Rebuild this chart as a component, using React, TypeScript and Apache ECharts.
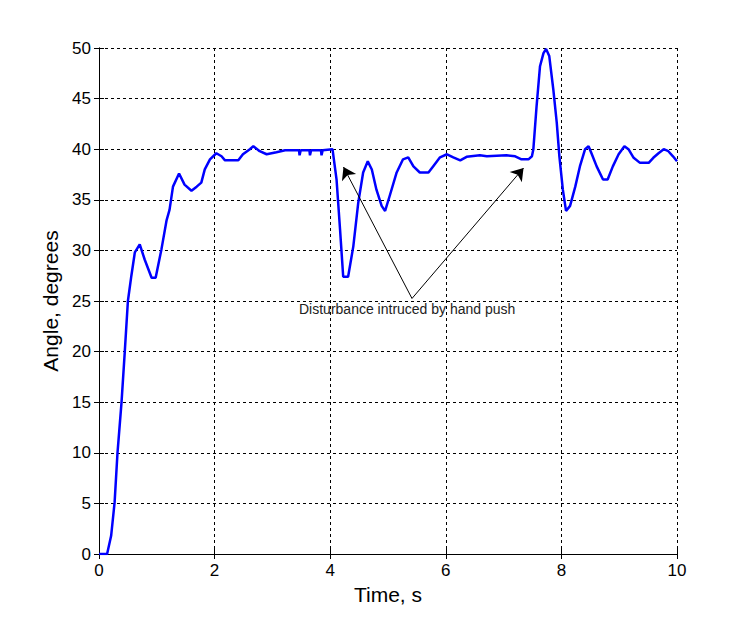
import React, { useEffect, useRef } from "react";
import * as echarts from "echarts";

const timeS = [
  0, 0.14, 0.21, 0.27, 0.32, 0.39, 0.445, 0.5, 0.56, 0.62, 0.705, 0.79, 0.91, 0.98, 1.08, 1.17,
  1.22, 1.28, 1.385, 1.48, 1.6, 1.69, 1.77, 1.83, 1.92, 2.03, 2.12, 2.18, 2.41, 2.49, 2.61, 2.67,
  2.78, 2.9, 3.07, 3.22, 3.46, 3.47, 3.49, 3.64, 3.65, 3.67, 3.84, 3.85, 3.87, 4.04,
  4.11, 4.17, 4.225, 4.31, 4.4, 4.485, 4.57, 4.65, 4.72, 4.8, 4.89, 4.95, 5.03, 5.15, 5.26, 5.35,
  5.44, 5.55, 5.7, 5.78, 5.9, 6.02, 6.13, 6.25, 6.36, 6.59, 6.71, 7.05, 7.2, 7.31, 7.43, 7.49,
  7.515, 7.57, 7.63, 7.69, 7.735, 7.79, 7.86, 7.92, 7.965, 8.025, 8.08, 8.15, 8.24, 8.32, 8.41,
  8.47, 8.52, 8.61, 8.72, 8.8, 8.89, 8.99, 9.09, 9.16, 9.25, 9.36, 9.51, 9.59, 9.68, 9.77, 9.85,
  9.93, 10.0,
];
const angleDeg = [
  0, 0, 1.8, 5.1, 10.0, 15.0, 19.9, 25.0, 27.5, 29.8, 30.6, 29.1, 27.3, 27.3, 30.1, 33.0,
  34.0, 36.3, 37.6, 36.5, 35.9, 36.3, 36.7, 38.0, 39.0, 39.6, 39.3, 38.9, 38.9, 39.5, 40.0, 40.3,
  39.8, 39.5, 39.7, 39.9, 39.9, 39.4, 39.9, 39.9, 39.4, 39.9, 39.9, 39.4, 39.9, 40.0,
  37.0, 32.1, 27.4, 27.4, 30.4, 34.7, 37.7, 38.8, 38.0, 36.0, 34.4, 33.9, 35.4, 37.7, 39.0, 39.2,
  38.3, 37.7, 37.7, 38.3, 39.2, 39.5, 39.2, 38.9, 39.25, 39.4, 39.3, 39.4, 39.3, 39.0, 39.0, 39.3,
  40.0, 44.2, 48.2, 49.5, 49.9, 49.2, 45.9, 42.6, 39.3, 36.0, 33.9, 34.4, 36.3, 38.3, 40.0,
  40.3, 39.6, 38.3, 37.0, 37.0, 38.3, 39.5, 40.3, 40.0, 39.15, 38.65, 38.65, 39.15, 39.6, 40.0, 39.8,
  39.3, 38.8,
];

// annotation arrows: [from (label point), to (arrow tip)] in data coordinates
const arrowFrom = [5.415, 25.25];
const arrowTips = [
  [4.23, 38.24],
  [7.345, 38.14],
];
const annotationText = "Disturbance intruced by hand push";

const xTicks = { min: 0, max: 10, interval: 2 };
const yTicks = { min: 0, max: 50, interval: 5 };

const FONT = "'Liberation Sans', Arial, sans-serif";

export default function App() {
  const ref = useRef<HTMLDivElement>(null);
  useEffect(() => {
    if (!ref.current) return;
    const chart = echarts.init(ref.current, null, { renderer: "svg" });
    const data = timeS.map((t, i) => [t, angleDeg[i]]);
    const gridLine = { show: true, lineStyle: { color: "#000", width: 1, type: [3, 3] as any } };
    const hiddenAxisCommon = {
      axisLine: { show: true, lineStyle: { color: "#000", width: 1 } },
      axisTick: { show: true, inside: true, length: 5, lineStyle: { color: "#000" } },
      axisLabel: { show: false },
      splitLine: { show: false },
    };
    chart.setOption({
      animation: false,
      backgroundColor: "#fff",
      grid: { left: 99, top: 48, right: 73, bottom: 72, containLabel: false },
      xAxis: [
        {
          type: "value",
          ...xTicks,
          name: "Time, s",
          nameLocation: "middle",
          nameGap: 29,
          nameTextStyle: { color: "#000", fontSize: 21, fontFamily: FONT },
          axisLine: { show: true, onZero: false, lineStyle: { color: "#000", width: 1 } },
          axisTick: { show: true, inside: true, length: 5, lineStyle: { color: "#000" } },
          axisLabel: { color: "#000", fontSize: 17, fontFamily: FONT, margin: 8 },
          splitLine: gridLine,
        },
        { type: "value", position: "top", ...xTicks, ...hiddenAxisCommon },
      ],
      yAxis: [
        {
          type: "value",
          ...yTicks,
          name: "Angle, degrees",
          nameLocation: "middle",
          nameGap: 36,
          nameTextStyle: { color: "#000", fontSize: 21, fontFamily: FONT },
          axisLine: { show: true, onZero: false, lineStyle: { color: "#000", width: 1 } },
          axisTick: { show: true, inside: true, length: 5, lineStyle: { color: "#000" } },
          axisLabel: { color: "#000", fontSize: 17, fontFamily: FONT, margin: 8 },
          splitLine: gridLine,
        },
        { type: "value", position: "right", ...yTicks, ...hiddenAxisCommon },
      ],
      series: [
        {
          type: "line",
          data,
          showSymbol: false,
          symbol: "none",
          lineStyle: { color: "#0000ff", width: 2.5 },
          clip: true,
          markLine: {
            silent: true,
            symbol: ["none", "arrow"],
            symbolSize: 12,
            label: { show: false },
            lineStyle: { color: "#000", width: 1, type: "solid" },
            itemStyle: { color: "#000" },
            data: arrowTips.map((tip) => [
              { coord: arrowFrom },
              { coord: tip },
            ]),
          },
        },
      ],
      graphic: [
        {
          type: "text",
          x: 299,
          y: 309,
          style: {
            text: annotationText,
            fill: "#222",
            fontSize: 14,
            fontFamily: FONT,
            verticalAlign: "middle",
          },
        },
      ],
    });
    return () => chart.dispose();
  }, []);
  return (
    <div
      ref={ref}
      style={{ position: "fixed", left: 0, top: 0, width: 750, height: 626, background: "#fff" }}
    />
  );
}
